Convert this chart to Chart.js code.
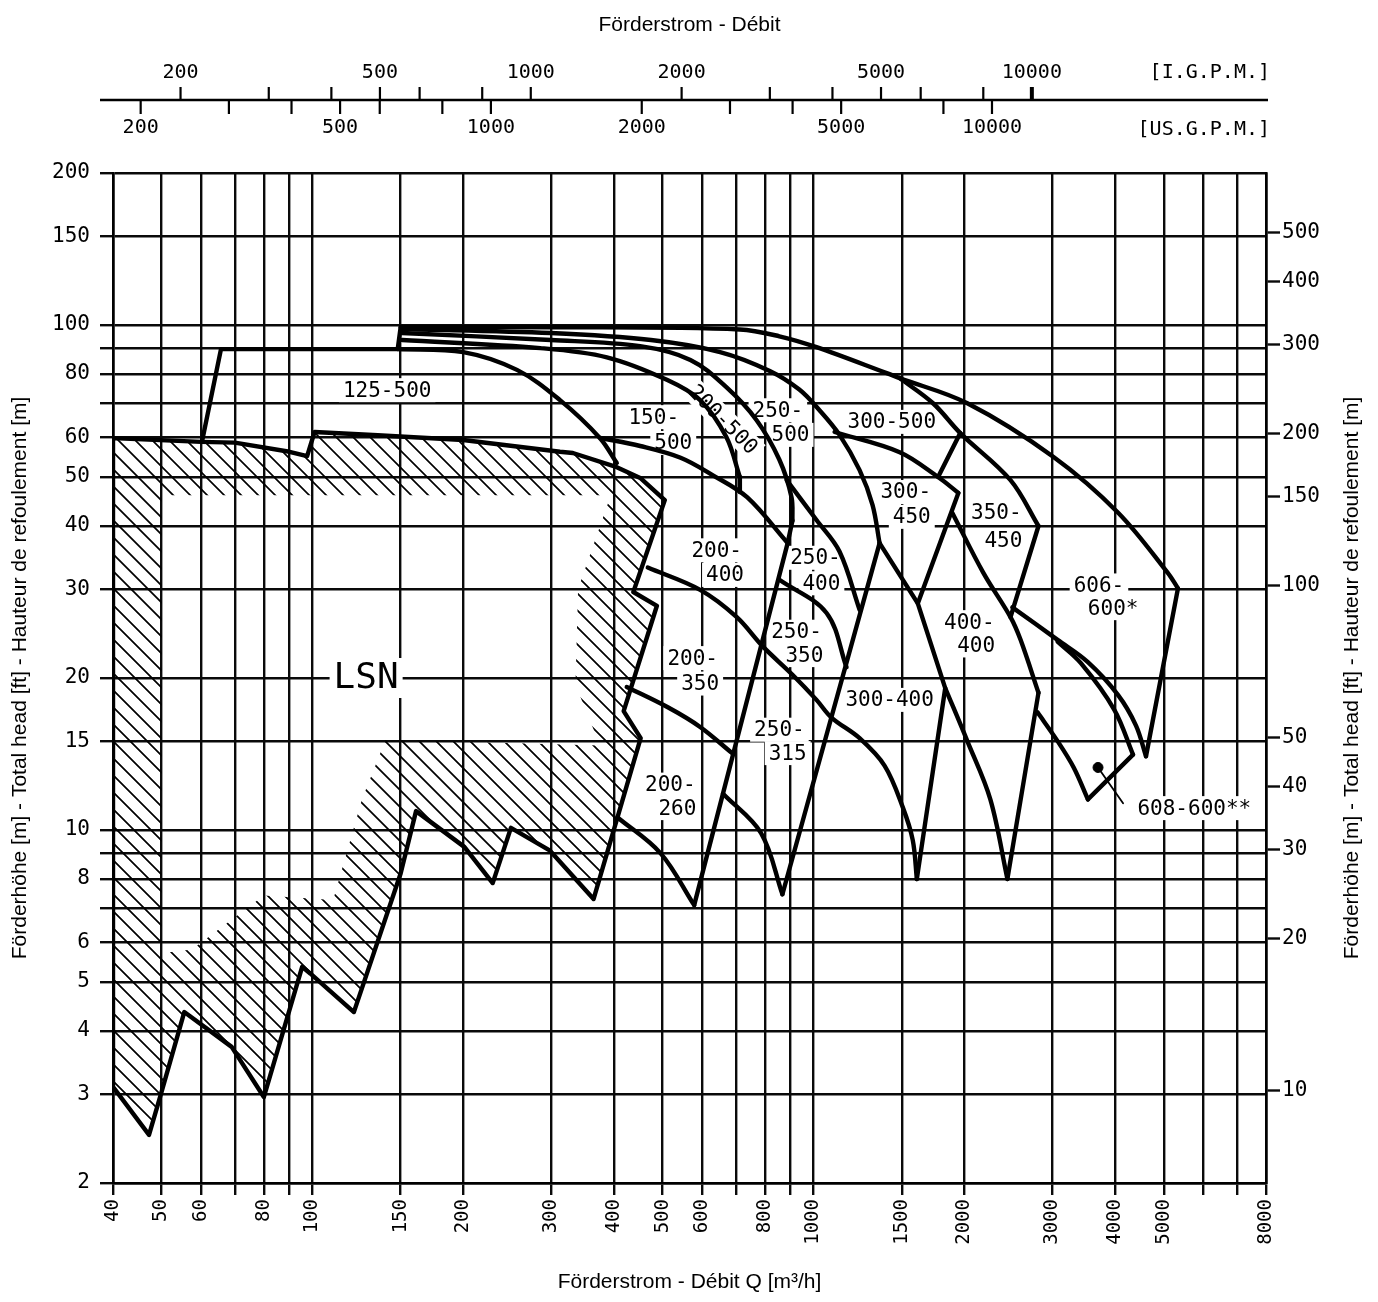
<!DOCTYPE html>
<html>
<head>
<meta charset="utf-8">
<script src="https://cdn.jsdelivr.net/npm/chart.js@4.4.1/dist/chart.umd.min.js"></script>
<style>
  html, body { margin: 0; padding: 0; background: #fff; }
  #wrap { width: 1378px; height: 1302px; position: relative; }
</style>
</head>
<body>
<div id="wrap"><canvas id="chart"></canvas></div>
<script>
// ---- Achsen ----
const X_GRID   = [40,50,60,70,80,90,100,150,200,300,400,500,600,700,800,900,1000,1500,2000,3000,4000,5000,6000,7000,8000];
const X_LABELS = [40,50,60,80,100,150,200,300,400,500,600,800,1000,1500,2000,3000,4000,5000,8000];
const Y_GRID   = [2,3,4,5,6,7,8,9,10,15,20,30,40,50,60,70,80,90,100,150,200];
const Y_LABELS = [2,3,4,5,6,8,10,15,20,30,40,50,60,80,100,150,200];
const FT_TICKS = [10,20,30,40,50,100,150,200,300,400,500];
const IGPM_TICKS  = [200,300,400,500,600,800,1000,2000,3000,4000,5000,6000,8000,10000];
const IGPM_LABELS = [200,500,1000,2000,5000,10000];
const USGPM_TICKS  = [200,300,400,500,600,800,1000,2000,3000,4000,5000,8000,10000];
const USGPM_LABELS = [200,500,1000,2000,5000,10000];
const IGPM_PER_M3H  = 3.666;
const USGPM_PER_M3H = 4.403;
const M_PER_FT = 0.3048;

const TOP_TITLE = 'Förderstrom - Débit';
const X_TITLE = 'Förderstrom - Débit Q [m³/h]';
const Y_TITLE = 'Förderhöhe [m] - Total head [ft] - Hauteur de refoulement [m]';

// ---- Kennfeld: [Q m³/h, H m] ----
const LSN_OUTLINE = [[40,59.7],[60,58.7],[70,58.5],[90,56.1],[97.6,55.0],[101,61.4],[135,60.5],[200,59.2],[312,56.1],[331,55.8],[405,52.3],[451,49.8],[505,45.0],[437,29.6],[487,27.8],[418,17.2],[452,15.2],[364,7.3],[298,9.1],[249,10.1],[229,7.85],[201,9.26],[161,10.9],[150,8.2],[121,4.36],[99,5.2],[95.4,5.36],[80,2.96],[69,3.72],[55.5,4.36],[50,3.03],[47.2,2.49],[40,3.1],[40,59.7]];
const LSN_INNER = [[50,46],[394,46],[339,30],[335,19.4],[375,14.7],[140,15.1],[125.6,11.5],[110,7.27],[80,7.42],[57.5,5.8],[50,5.7]];

const EDGE_125_500  = [[60.2,58.7],[65.7,89.6],[148,89.6],[150,99]];
const CURVE_125_500 = [[148,89.6],[200,88.4],[256,81.5],[312,71.0],[375,59.7],[405,53.3]];
const CURVE_TOP     = [[150,99],[300,99],[713,98],[855,95],[1014,90.4],[1400,80.3],[1486,78.5],[2028,70],[3014,54.8],[4055,42.5],[5094,32.3],[5338,30.1]];
const EDGE_606_600  = [[5338,30.1],[4609,14.0]];
const CURVE_250_500 = [[151,98.2],[299,96.4],[474,93.4],[651,88.4],[818,81.1],[937,74.5],[1028,67.8],[1127,60.6],[1236,51.6],[1312,44.0],[1355,37.0]];
const CURVE_200_500 = [[151,96.4],[299,93.4],[451,90.8],[568,85.3],[670,75.3],[770,64.8],[855,54.1],[904,45.6],[908,41.0]];
const CURVE_150_500 = [[151,93.4],[285,90],[387,86.3],[511,77.8],[594,71.0],[670,60],[713,50]];
const EDGE_150_500  = [[713,50],[713,46.7]];
const CURVE_200_400 = [[375,59.8],[451,57.6],[543,54.6],[630,50.4],[737,45.6],[888,37.0]];
const LINE_M1 = [[908,41.0],[888,37.0],[578,7.1]];
const LINE_M2 = [[1355,37.0],[867,7.46]];
const LINE_300_450_BASE = [[1355,37.0],[1615,28.1]];
const LINE_300_400_R = [[1946,46.5],[1615,28.1],[1832,19.1],[1608,8.0]];
const CURVE_400_400_L = [[1832,19.1],[2028,15.0],[2254,11.5],[2438,8.0]];
const CURVE_350_450_BASE = [[1892,42.5],[2183,32.3],[2473,26.4],[2590,23.8],[2812,18.7]];
const LINE_400_400_R = [[2812,18.7],[2438,8.0]];
const CURVE_300_500_BASE = [[1102,61.4],[1486,56.0],[1773,50],[1946,46.5]];
const LINE_300_500_R = [[1963,61.1],[1773,50]];
const CURVE_350_450_TOP = [[1486,78.5],[1732,70],[1963,61.1],[2473,49.3],[2812,40]];
const LINE_350_450_R = [[2812,40],[2473,26.4]];
const CURVE_606_600_BASE = [[2494,27.6],[3070,23.8],[3529,21.5],[4055,18.5],[4402,16.1],[4609,14.0]];
const CURVE_608_600_R = [[3070,23.6],[3417,21.4],[3985,17.3],[4342,14.1]];
const LINE_608_600_BASE = [[4342,14.1],[3529,11.5]];
const CURVE_608_600_L = [[3529,11.5],[3306,13.3],[3070,15.0],[2800,17.1]];
const CURVE_LONG = [[467,33.1],[594,29.9],[703,26.4],[792,23.1],[908,20.3],[1014,18.1],[1086,16.7],[1236,15.2],[1387,13.4],[1507,11.1],[1578,9.55],[1608,8.0]];
const CURVE_250_350_TOP = [[855,31.3],[1062,26.9],[1164,21.0]];
const CURVE_250_400_TOP = [[884,49.3],[1014,41.1],[1127,35.6],[1236,27.3]];
const CURVE_200_260_TOP = [[424,19.2],[512,17.5],[594,16.0],[688,14.2]];
const CURVE_200_260_BASE = [[406,10.6],[495,9.0],[578,7.1]];
const CURVE_250_315_BASE = [[660,11.8],[786,9.86],[867,7.46]];
const POINTER_608 = [[3697,13.3],[4148,11.3]];
const DOT_608 = [[3697,13.3]];

// Beschriftungen: [Text, Q, H, Drehung°]
const PUMP_LABELS = [
  ['125-500',141,74.3],
  ['150-',480,65.7], ['500',525,58.4],
  ['200-500',660,65,45],
  ['250-',849,67.8], ['500',900,60.6],
  ['300-500',1433,64.3],
  ['300-',1528,46.7], ['450',1571,41.7],
  ['350-',2317,42.5], ['450',2393,37.5],
  ['606-',3713,30.5], ['600*',3963,27.5],
  ['608-600**',5755,11.05],
  ['200-',641,35.8], ['400',666,32],
  ['250-',1009,34.6], ['400',1037,30.8],
  ['250-',925,24.7], ['350',959,22.2],
  ['400-',2046,25.8], ['400',2112,23.2],
  ['200-',574,21.9], ['350',594,19.5],
  ['300-400',1419,18.1],
  ['250-',855,15.8], ['315',888,14.2],
  ['200-',518,12.3], ['260',535,11.05],
];
const BIG_LABEL = ['LSN',128,20];

const STRAIGHT_LINES = [LSN_OUTLINE, EDGE_125_500, EDGE_606_600, EDGE_150_500, LINE_M1, LINE_M2,
  LINE_300_450_BASE, LINE_300_400_R, LINE_400_400_R, LINE_300_500_R, LINE_350_450_R, LINE_608_600_BASE];
const SMOOTH_CURVES = [CURVE_125_500, CURVE_TOP, CURVE_250_500, CURVE_200_500, CURVE_150_500, CURVE_200_400,
  CURVE_400_400_L, CURVE_350_450_BASE, CURVE_300_500_BASE, CURVE_350_450_TOP, CURVE_606_600_BASE,
  CURVE_608_600_R, CURVE_608_600_L, CURVE_LONG, CURVE_250_350_TOP, CURVE_250_400_TOP,
  CURVE_200_260_TOP, CURVE_200_260_BASE, CURVE_250_315_BASE];

const MONO = "'DejaVu Sans Mono', 'Liberation Mono', monospace";
const SANS = "'Liberation Sans', Arial, sans-serif";
const INK = '#0a0a0a';

const toXY = pts => pts.map(([q, h]) => ({ x: q, y: h }));

function lineSet(pts, tension, width) {
  return {
    data: toXY(pts), showLine: true, tension,
    borderColor: '#000', borderWidth: width, pointRadius: 0,
    borderJoinStyle: 'round', borderCapStyle: 'round', fill: false,
  };
}

const datasets = [
  ...STRAIGHT_LINES.map(p => lineSet(p, 0, 4.4)),
  ...SMOOTH_CURVES.map(p => lineSet(p, 0.35, 4.4)),
  lineSet(POINTER_608, 0, 1.8),
  { data: toXY(DOT_608), pointRadius: 5, backgroundColor: '#000', borderColor: '#000', showLine: false },
];

// ---- Plugins ----
const hatchPlugin = {
  id: 'lsnHatch',
  beforeDatasetsDraw(chart) {
    const { ctx, chartArea: a, scales: { x, y } } = chart;
    const trace = pts => pts.forEach(([q, h], i) => {
      const px = x.getPixelForValue(q), py = y.getPixelForValue(h);
      i ? ctx.lineTo(px, py) : ctx.moveTo(px, py);
    });
    ctx.save();
    ctx.beginPath();
    trace(LSN_OUTLINE); ctx.closePath();
    trace(LSN_INNER); ctx.closePath();
    ctx.clip('evenodd');
    ctx.beginPath();
    const span = a.bottom - a.top;
    for (let s = a.left - span; s < a.right; s += 17) {
      ctx.moveTo(s, a.top);
      ctx.lineTo(s + span, a.bottom);
    }
    ctx.lineWidth = 1.7;
    ctx.strokeStyle = '#000';
    ctx.stroke();
    ctx.restore();
  },
};

function eachLabel(chart, fn) {
  const { ctx, scales: { x, y } } = chart;
  for (const [text, q, h, angle] of PUMP_LABELS) {
    ctx.save();
    ctx.translate(x.getPixelForValue(q), y.getPixelForValue(h));
    ctx.rotate((angle || 0) * Math.PI / 180);
    fn(text, `21px ${MONO}`, 24);
    ctx.restore();
  }
  const [t, q, h] = BIG_LABEL;
  ctx.save();
  ctx.translate(x.getPixelForValue(q), y.getPixelForValue(h));
  fn(t, `36px ${MONO}`, 40);
  ctx.restore();
}

const labelPlugin = {
  id: 'pumpLabels',
  beforeDatasetsDraw(chart) {
    const ctx = chart.ctx;
    eachLabel(chart, (text, font, hgt) => {
      ctx.font = font;
      const w = ctx.measureText(text).width + 8;
      ctx.fillStyle = '#fff';
      ctx.fillRect(-w / 2, -hgt / 2, w, hgt);
    });
  },
  afterDatasetsDraw(chart) {
    const ctx = chart.ctx;
    eachLabel(chart, (text, font) => {
      ctx.font = font;
      ctx.fillStyle = '#000';
      ctx.textAlign = 'center';
      ctx.textBaseline = 'middle';
      ctx.fillText(text, 0, 1);
    });
  },
};

const decorPlugin = {
  id: 'decor',
  afterDraw(chart) {
    const { ctx, chartArea: a, scales: { x }, width } = chart;
    ctx.save();
    ctx.fillStyle = '#000';
    ctx.strokeStyle = '#000';
    ctx.textAlign = 'center';
    ctx.textBaseline = 'middle';
    ctx.font = `21px ${SANS}`;
    ctx.fillText(TOP_TITLE, (a.left + a.right) / 2, 25);

    // Förderstrom in Gallonen (oben)
    const lineY = a.top - 73;
    ctx.lineWidth = 2.6;
    ctx.beginPath(); ctx.moveTo(a.left - 13, lineY); ctx.lineTo(a.right + 2, lineY); ctx.stroke();
    ctx.font = `20px ${MONO}`;
    IGPM_TICKS.forEach(v => {
      const px = x.getPixelForValue(v / IGPM_PER_M3H);
      ctx.lineWidth = v === 10000 ? 4 : 2.2;
      ctx.beginPath(); ctx.moveTo(px, lineY); ctx.lineTo(px, lineY - 13); ctx.stroke();
      if (IGPM_LABELS.includes(v)) ctx.fillText(String(v), px, lineY - 27);
    });
    USGPM_TICKS.forEach(v => {
      const px = x.getPixelForValue(v / USGPM_PER_M3H);
      ctx.lineWidth = 2.2;
      ctx.beginPath(); ctx.moveTo(px, lineY); ctx.lineTo(px, lineY + 14); ctx.stroke();
      if (USGPM_LABELS.includes(v)) ctx.fillText(String(v), px, lineY + 28);
    });
    ctx.textAlign = 'right';
    ctx.fillText('[I.G.P.M.]', a.right + 4, lineY - 27);
    ctx.fillText('[US.G.P.M.]', a.right + 4, lineY + 30);

    // rechter Achsentitel
    ctx.font = `21px ${SANS}`;
    ctx.textAlign = 'center';
    ctx.translate(width - 26, (a.top + a.bottom) / 2);
    ctx.rotate(-Math.PI / 2);
    ctx.fillText(Y_TITLE, 0, 0);
    ctx.restore();
  },
};

const gridOpts = { color: INK, lineWidth: 2.4, tickColor: INK, tickWidth: 2.4 };

new Chart(document.getElementById('chart'), {
  type: 'scatter',
  data: { datasets },
  options: {
    responsive: true,
    maintainAspectRatio: false,
    animation: false,
    events: [],
    layout: { padding: { top: 173, left: 0, right: 0, bottom: 0 } },
    plugins: { legend: { display: false }, tooltip: { enabled: false } },
    scales: {
      x: {
        type: 'logarithmic', position: 'bottom', min: 40, max: 8000,
        afterBuildTicks: s => { s.ticks = X_GRID.map(v => ({ value: v })); },
        afterFit: s => { s.height = 119; },
        grid: { ...gridOpts, tickLength: 12 },
        border: { color: '#000', width: 2.6 },
        ticks: {
          autoSkip: false, minRotation: 90, maxRotation: 90, padding: 4, color: '#000',
          font: { family: MONO, size: 19 },
          callback: v => X_LABELS.includes(v) ? String(v) : '',
        },
        title: { display: true, text: X_TITLE, color: '#000', font: { family: SANS, size: 21 }, padding: { top: 0, bottom: 7 } },
      },
      y: {
        type: 'logarithmic', position: 'left', min: 2, max: 200,
        afterBuildTicks: s => { s.ticks = Y_GRID.map(v => ({ value: v })); },
        afterFit: s => { s.width = 113; },
        grid: { ...gridOpts, tickLength: 13 },
        border: { color: '#000', width: 2.6 },
        ticks: {
          autoSkip: false, padding: 10, color: '#000',
          font: { family: MONO, size: 21 },
          callback: v => Y_LABELS.includes(v) ? String(v) : '',
        },
        title: { display: true, text: Y_TITLE, color: '#000', font: { family: SANS, size: 21 }, padding: { top: 8, bottom: 0 } },
      },
      y2: {
        type: 'logarithmic', position: 'right', min: 2 / M_PER_FT, max: 200 / M_PER_FT,
        afterBuildTicks: s => { s.ticks = FT_TICKS.map(v => ({ value: v })); },
        afterFit: s => { s.width = 112; },
        grid: { drawOnChartArea: false, tickLength: 14, tickColor: INK, tickWidth: 2.4 },
        border: { color: '#000', width: 2.6 },
        ticks: {
          autoSkip: false, padding: 2, color: '#000',
          font: { family: MONO, size: 21 },
          callback: v => String(v),
        },
      },
    },
  },
  plugins: [hatchPlugin, labelPlugin, decorPlugin],
});
</script>
</body>
</html>
